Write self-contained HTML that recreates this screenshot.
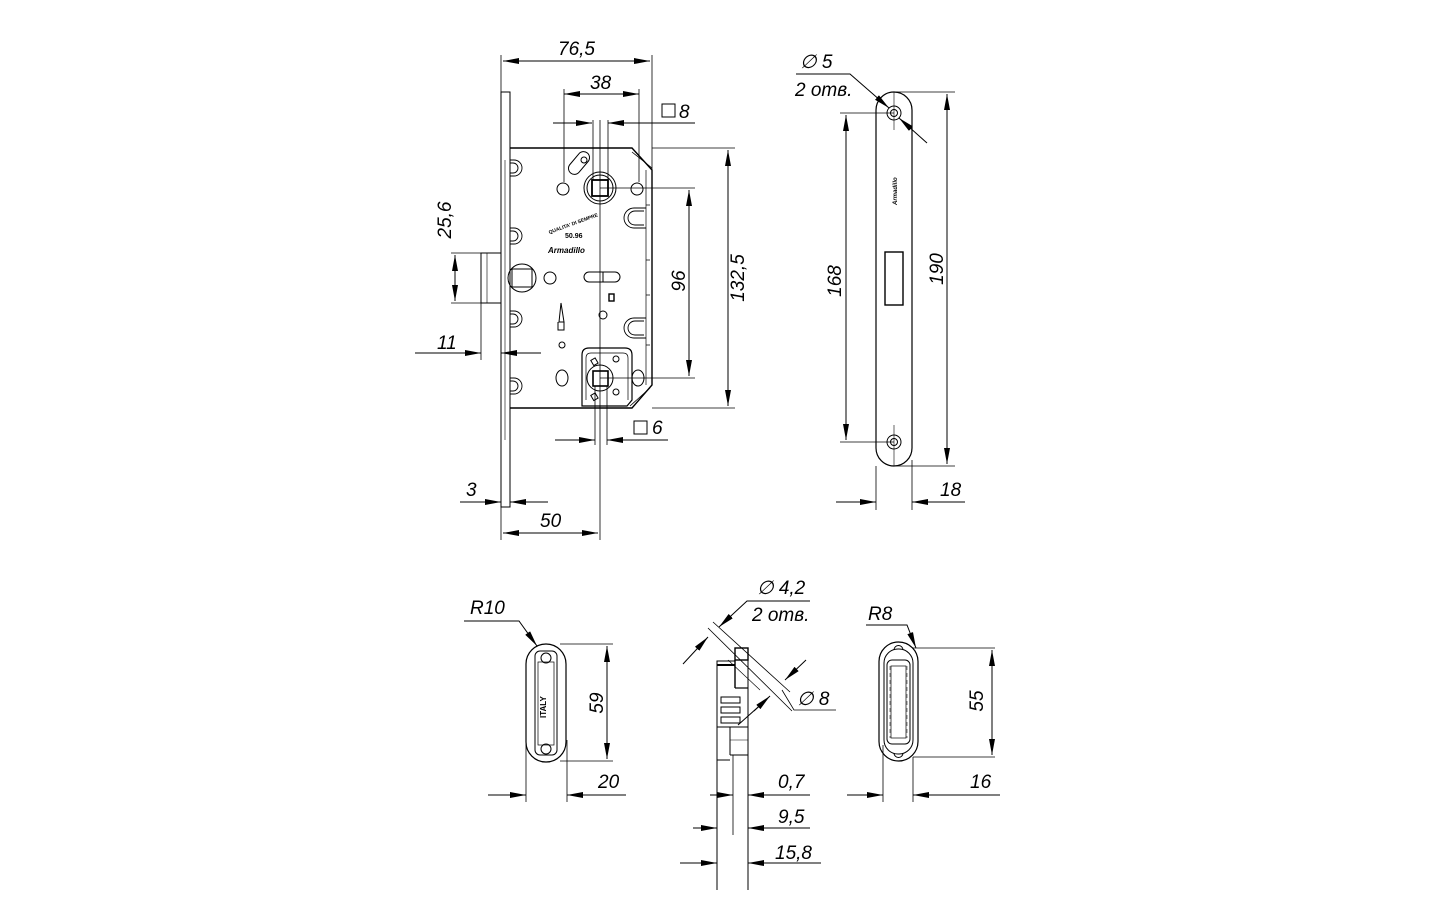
<!DOCTYPE html>
<html><head><meta charset="utf-8"><style>
html,body{margin:0;padding:0;background:#fff;}
svg{display:block}
text{font-family:"Liberation Sans",sans-serif;font-style:italic;fill:#000}
</style></head><body>
<svg width="1440" height="900" viewBox="0 0 1440 900" xmlns="http://www.w3.org/2000/svg">
<defs>
<marker id="a" viewBox="0 0 16 6" refX="16" refY="3" markerWidth="16" markerHeight="6" markerUnits="userSpaceOnUse" orient="auto"><path d="M0,0 L16,3 L0,6 z" fill="#000"/></marker>
<marker id="b" viewBox="0 0 16 6" refX="0" refY="3" markerWidth="16" markerHeight="6" markerUnits="userSpaceOnUse" orient="auto"><path d="M16,0 L0,3 L16,6 z" fill="#000"/></marker>
</defs>
<g fill="none" stroke="#000" stroke-width="1">
<!-- MAIN LOCK -->
<rect x="501" y="92" width="9" height="415"/>
<line x1="505" y1="160" x2="505" y2="440" stroke-width="0.6"/>
<path d="M510,148 H632 L652,170 V385 L632,408 H510" stroke-width="1.4"/>
<path d="M646,170 V385" stroke-width="0.7"/>
<path d="M646,205 h4 M646,260 h4 M646,295 h4 M646,345 h4" stroke-width="0.7"/>
<line x1="632" y1="152" x2="652" y2="168" stroke-width="0.8"/>
<line x1="630" y1="406" x2="650" y2="388" stroke-width="0.8"/>
<!-- latch -->
<rect x="481" y="253" width="20" height="50"/>
<line x1="487" y1="253" x2="487" y2="303" stroke-width="0.6"/>
<!-- left screws -->
<g stroke-width="0.9">
<path d="M510,160 h4 a8,8 0 0 1 0,16 h-4"/><path d="M510,163 h3 a5,5 0 0 1 0,10 h-3"/>
<path d="M510,228 h4 a8,8 0 0 1 0,16 h-4"/><path d="M510,231 h3 a5,5 0 0 1 0,10 h-3"/>
<path d="M510,311 h4 a8,8 0 0 1 0,16 h-4"/><path d="M510,314 h3 a5,5 0 0 1 0,10 h-3"/>
<path d="M510,378 h4 a8,8 0 0 1 0,16 h-4"/><path d="M510,381 h3 a5,5 0 0 1 0,10 h-3"/>
<!-- right U -->
<path d="M646,208 h-12 a10,10 0 0 0 0,20 h12"/><path d="M644,211 h-9 a7,7 0 0 0 0,14 h9"/>
<path d="M646,318 h-12 a10,10 0 0 0 0,20 h12"/><path d="M644,321 h-9 a7,7 0 0 0 0,14 h9"/>
</g>
<!-- top spindle -->
<circle cx="600" cy="188" r="16"/><circle cx="600" cy="188" r="13"/>
<rect x="592" y="180" width="16" height="16" stroke-width="1.8"/>
<circle cx="563" cy="189" r="6"/><circle cx="637" cy="189" r="6"/>
<rect x="566" y="157" width="26" height="12" rx="6" transform="rotate(-50 579 163)"/>
<circle cx="584" cy="160" r="3"/>
<!-- cylinder -->
<circle cx="522" cy="278" r="14"/><rect x="512" y="269" width="20" height="18"/>
<circle cx="550" cy="278" r="6"/>
<rect x="584" y="272" width="36" height="10" rx="5"/>
<line x1="603" y1="272" x2="603" y2="282"/>
<rect x="609" y="294" width="5" height="7" stroke-width="1.4"/>
<circle cx="603" cy="315" r="4"/>
<path d="M559,322 L561,303 L564,322 Z M558,322 v8 h6 v-8"/>
<circle cx="562" cy="345" r="3"/>
<!-- bottom square plate -->
<path d="M582,400 V355 q0,-7 7,-7 h36 q7,0 7,7 v45 l-5,6 H582 Z" stroke-width="1.2"/>
<path d="M586,400 V358 q0,-5 5,-5 h32 q5,0 5,5 v42" stroke-width="0.7"/>
<circle cx="600" cy="378" r="13"/>
<rect x="593" y="371" width="15" height="15" stroke-width="1.6"/>
<circle cx="616" cy="359" r="3"/><circle cx="616" cy="392" r="3"/>
<rect x="592" y="359" width="5" height="6" transform="rotate(-30 594 362)"/>
<rect x="592" y="394" width="5" height="6" transform="rotate(-30 594 397)"/>
<ellipse cx="562" cy="378" rx="6" ry="8"/><ellipse cx="638" cy="378" rx="6" ry="8"/>
<!-- centre lines -->
<line x1="600" y1="120" x2="600" y2="540" stroke-width="0.8"/>
<line x1="608" y1="120" x2="608" y2="180" stroke-width="0.8"/>
<line x1="593" y1="120" x2="593" y2="180" stroke-width="0.8"/>
<line x1="595" y1="386" x2="595" y2="445" stroke-width="0.8"/>
<line x1="607" y1="386" x2="607" y2="445" stroke-width="0.8"/>
<!-- dims main -->
<line x1="501" y1="55" x2="501" y2="92" stroke-width="0.8"/>
<line x1="652" y1="55" x2="652" y2="170" stroke-width="0.8"/>
<line x1="503" y1="61" x2="650" y2="61" marker-start="url(#b)" marker-end="url(#a)"/>
<line x1="564" y1="89" x2="564" y2="182" stroke-width="0.8"/>
<line x1="639" y1="89" x2="639" y2="182" stroke-width="0.8"/>
<line x1="564" y1="94" x2="639" y2="94" marker-start="url(#b)" marker-end="url(#a)"/>
<line x1="553" y1="123" x2="592" y2="123" marker-end="url(#a)"/>
<line x1="695" y1="123" x2="608" y2="123" marker-end="url(#a)"/>
<line x1="652" y1="148" x2="735" y2="148" stroke-width="0.8"/>
<line x1="652" y1="408" x2="735" y2="408" stroke-width="0.8"/>
<line x1="728" y1="150" x2="728" y2="406" marker-start="url(#b)" marker-end="url(#a)"/>
<line x1="600" y1="188" x2="695" y2="188" stroke-width="0.8"/>
<line x1="600" y1="378" x2="695" y2="378" stroke-width="0.8"/>
<line x1="689" y1="190" x2="689" y2="376" marker-start="url(#b)" marker-end="url(#a)"/>
<line x1="451" y1="253" x2="481" y2="253" stroke-width="0.8"/>
<line x1="451" y1="303" x2="481" y2="303" stroke-width="0.8"/>
<line x1="455" y1="255" x2="455" y2="301" marker-start="url(#b)" marker-end="url(#a)"/>
<line x1="481" y1="303" x2="481" y2="360" stroke-width="0.8"/>
<line x1="415" y1="353" x2="481" y2="353" marker-end="url(#a)"/>
<line x1="541" y1="353" x2="501" y2="353" marker-end="url(#a)"/>
<line x1="460" y1="502" x2="501" y2="502" marker-end="url(#a)"/>
<line x1="548" y1="502" x2="510" y2="502" marker-end="url(#a)"/>
<line x1="501" y1="507" x2="501" y2="540" stroke-width="0.8"/>
<line x1="503" y1="533" x2="598" y2="533" marker-start="url(#b)" marker-end="url(#a)"/>
<line x1="555" y1="440" x2="595" y2="440" marker-end="url(#a)"/>
<line x1="668" y1="440" x2="607" y2="440" marker-end="url(#a)"/>
<rect x="662" y="104" width="13" height="13"/>
<rect x="634" y="421" width="13" height="13"/>

<!-- FACEPLATE VIEW -->
<path d="M876,110 a18,18 0 0 1 36,0 V448 a18,18 0 0 1 -36,0 Z" stroke-width="1.2"/>
<circle cx="894" cy="113" r="7"/><circle cx="894" cy="113" r="3.5"/>
<circle cx="894" cy="442" r="7"/><circle cx="894" cy="442" r="3.5"/>
<line x1="894" y1="92" x2="894" y2="130" stroke-width="0.6"/>
<line x1="894" y1="425" x2="894" y2="466" stroke-width="0.6"/>
<rect x="885" y="252" width="18" height="53" stroke-width="1.4"/>
<line x1="876" y1="466" x2="876" y2="510" stroke-width="0.8"/>
<line x1="912" y1="460" x2="912" y2="510" stroke-width="0.8"/>
<line x1="836" y1="502" x2="876" y2="502" marker-end="url(#a)"/>
<line x1="965" y1="502" x2="912" y2="502" marker-end="url(#a)"/>
<line x1="840" y1="113" x2="894" y2="113" stroke-width="0.8"/>
<line x1="840" y1="442" x2="894" y2="442" stroke-width="0.8"/>
<line x1="846" y1="115" x2="846" y2="440" marker-start="url(#b)" marker-end="url(#a)"/>
<line x1="894" y1="92" x2="955" y2="92" stroke-width="0.8"/>
<line x1="894" y1="466" x2="955" y2="466" stroke-width="0.8"/>
<line x1="947" y1="94" x2="947" y2="464" marker-start="url(#b)" marker-end="url(#a)"/>
<polyline points="796,74 850,74 889,108" marker-end="url(#a)"/>
<line x1="927" y1="143" x2="899" y2="118" marker-end="url(#a)"/>

<!-- R10 PLATE -->
<rect x="526" y="644" width="40" height="118" rx="20" stroke-width="1.2"/>
<rect x="535" y="651" width="22" height="104" rx="5"/>
<rect x="538" y="662" width="16" height="83" stroke-width="0.7"/>
<circle cx="546" cy="658" r="5"/><circle cx="546" cy="749" r="5"/>
<line x1="560" y1="644" x2="613" y2="644" stroke-width="0.8"/>
<line x1="560" y1="761" x2="613" y2="761" stroke-width="0.8"/>
<line x1="607" y1="646" x2="607" y2="759" marker-start="url(#b)" marker-end="url(#a)"/>
<line x1="526" y1="740" x2="526" y2="802" stroke-width="0.8"/>
<line x1="567" y1="740" x2="567" y2="802" stroke-width="0.8"/>
<line x1="488" y1="795" x2="526" y2="795" marker-end="url(#a)"/>
<line x1="626" y1="795" x2="567" y2="795" marker-end="url(#a)"/>
<polyline points="464,621 519,621 537,646" marker-end="url(#a)"/>

<!-- PROFILE -->
<path d="M717,890 V661 H735 M735,648 H748 V890" stroke-width="1"/>
<rect x="735" y="648" width="13" height="12" stroke-width="1.4"/>
<line x1="717" y1="665" x2="735" y2="665" stroke-width="2"/>
<line x1="735" y1="660" x2="735" y2="688" stroke-width="1.4"/>
<line x1="735" y1="688" x2="748" y2="688" stroke-width="1.2"/>
<line x1="730" y1="727" x2="730" y2="755"/>
<rect x="721" y="697" width="19" height="6"/><rect x="721" y="707" width="19" height="6"/><rect x="721" y="717" width="19" height="6"/>
<line x1="717" y1="727" x2="748" y2="727"/>
<line x1="717" y1="760" x2="730" y2="760"/>
<line x1="730" y1="755" x2="748" y2="755"/>
<line x1="733" y1="755" x2="733" y2="835" stroke-width="0.8"/>
<line x1="730" y1="740" x2="748" y2="740" stroke-width="0.6"/>
<line x1="710" y1="795" x2="733" y2="795" marker-end="url(#a)"/>
<line x1="810" y1="795" x2="748" y2="795" marker-end="url(#a)"/>
<line x1="693" y1="828" x2="717" y2="828" marker-end="url(#a)"/>
<line x1="810" y1="828" x2="748" y2="828" marker-end="url(#a)"/>
<line x1="680" y1="863" x2="717" y2="863" marker-end="url(#a)"/>
<line x1="821" y1="863" x2="748" y2="863" marker-end="url(#a)"/>
<!-- slanted dims -->
<line x1="708" y1="628" x2="792" y2="711" stroke-width="0.8"/>
<line x1="713" y1="622" x2="790" y2="692" stroke-width="0.8"/>
<line x1="728" y1="660" x2="760" y2="690" stroke-width="0.6"/>
<line x1="683" y1="664" x2="708" y2="637" marker-end="url(#a)"/>
<polyline points="810,601 747,601 719,627" marker-end="url(#a)"/>
<line x1="738" y1="725" x2="766" y2="700" />
<line x1="754" y1="711" x2="770" y2="696" marker-end="url(#a)"/>
<line x1="806" y1="660" x2="785" y2="680" marker-end="url(#a)"/>
<polyline points="782,690 794,710 836,710" stroke-width="0.8"/>

<!-- R8 PLATE -->
<rect x="879" y="642" width="39" height="119" rx="19.5" stroke-width="1.2"/>
<rect x="884" y="649" width="29" height="105" rx="14"/>
<rect x="887" y="660" width="23" height="84" rx="5"/>
<rect x="891" y="666" width="15" height="72" stroke-width="0.7"/>
<path d="M890,666 v72 M907,666 v72" stroke-width="0.5" stroke-dasharray="4,3"/>
<path d="M894,650 a4,4 0 0 1 9,0 M894,753 a4,4 0 0 0 9,0"/>
<line x1="913" y1="648" x2="995" y2="648" stroke-width="0.8"/>
<line x1="913" y1="757" x2="995" y2="757" stroke-width="0.8"/>
<line x1="992" y1="650" x2="992" y2="755" marker-start="url(#b)" marker-end="url(#a)"/>
<line x1="883" y1="745" x2="883" y2="802" stroke-width="0.8"/>
<line x1="913" y1="757" x2="913" y2="802" stroke-width="0.8"/>
<line x1="847" y1="795" x2="883" y2="795" marker-end="url(#a)"/>
<line x1="1000" y1="795" x2="913" y2="795" marker-end="url(#a)"/>
<polyline points="866,625 907,625 916,648" marker-end="url(#a)"/>
</g>

<!-- TEXT -->
<g font-size="19">
<text x="558" y="55">76,5</text>
<text x="590" y="89">38</text>
<text x="679" y="118">8</text>
<text x="652" y="434">6</text>
<text x="744" y="278" transform="rotate(-90 744 278)" text-anchor="middle">132,5</text>
<text x="685" y="281" transform="rotate(-90 685 281)" text-anchor="middle">96</text>
<text x="451" y="220" transform="rotate(-90 451 220)" text-anchor="middle">25,6</text>
<text x="437" y="349">11</text>
<text x="466" y="496">3</text>
<text x="540" y="527">50</text>
<text x="800" y="68">∅ 5</text>
<text x="795" y="96">2 отв.</text>
<text x="841" y="281" transform="rotate(-90 841 281)" text-anchor="middle">168</text>
<text x="943" y="269" transform="rotate(-90 943 269)" text-anchor="middle">190</text>
<text x="940" y="496">18</text>
<text x="470" y="614">R10</text>
<text x="603" y="703" transform="rotate(-90 603 703)" text-anchor="middle">59</text>
<text x="598" y="788">20</text>
<text x="757" y="594">∅ 4,2</text>
<text x="752" y="621">2 отв.</text>
<text x="797" y="705">∅ 8</text>
<text x="778" y="788">0,7</text>
<text x="778" y="823">9,5</text>
<text x="775" y="859">15,8</text>
<text x="868" y="620">R8</text>
<text x="983" y="701" transform="rotate(-90 983 701)" text-anchor="middle">55</text>
<text x="970" y="788">16</text>
</g>
<g font-family="Liberation Serif" font-size="7" font-weight="bold">
<text x="565" y="238" style="font-style:normal" font-family="Liberation Serif">50.96</text>
<text x="548" y="253" font-family="Liberation Serif" font-size="8">Armadillo</text>
<text x="548" y="230" font-size="5" style="font-style:normal" transform="rotate(-20 560 228)">QUALITA' DI SEMPRE</text>
<text x="897" y="205" font-size="6" transform="rotate(-90 897 205)">Armadillo</text>
<text x="546" y="718" font-size="8" font-family="Liberation Sans" style="font-style:normal" transform="rotate(-90 546 718)">ITALY</text>
</g>
</svg>
</body></html>
